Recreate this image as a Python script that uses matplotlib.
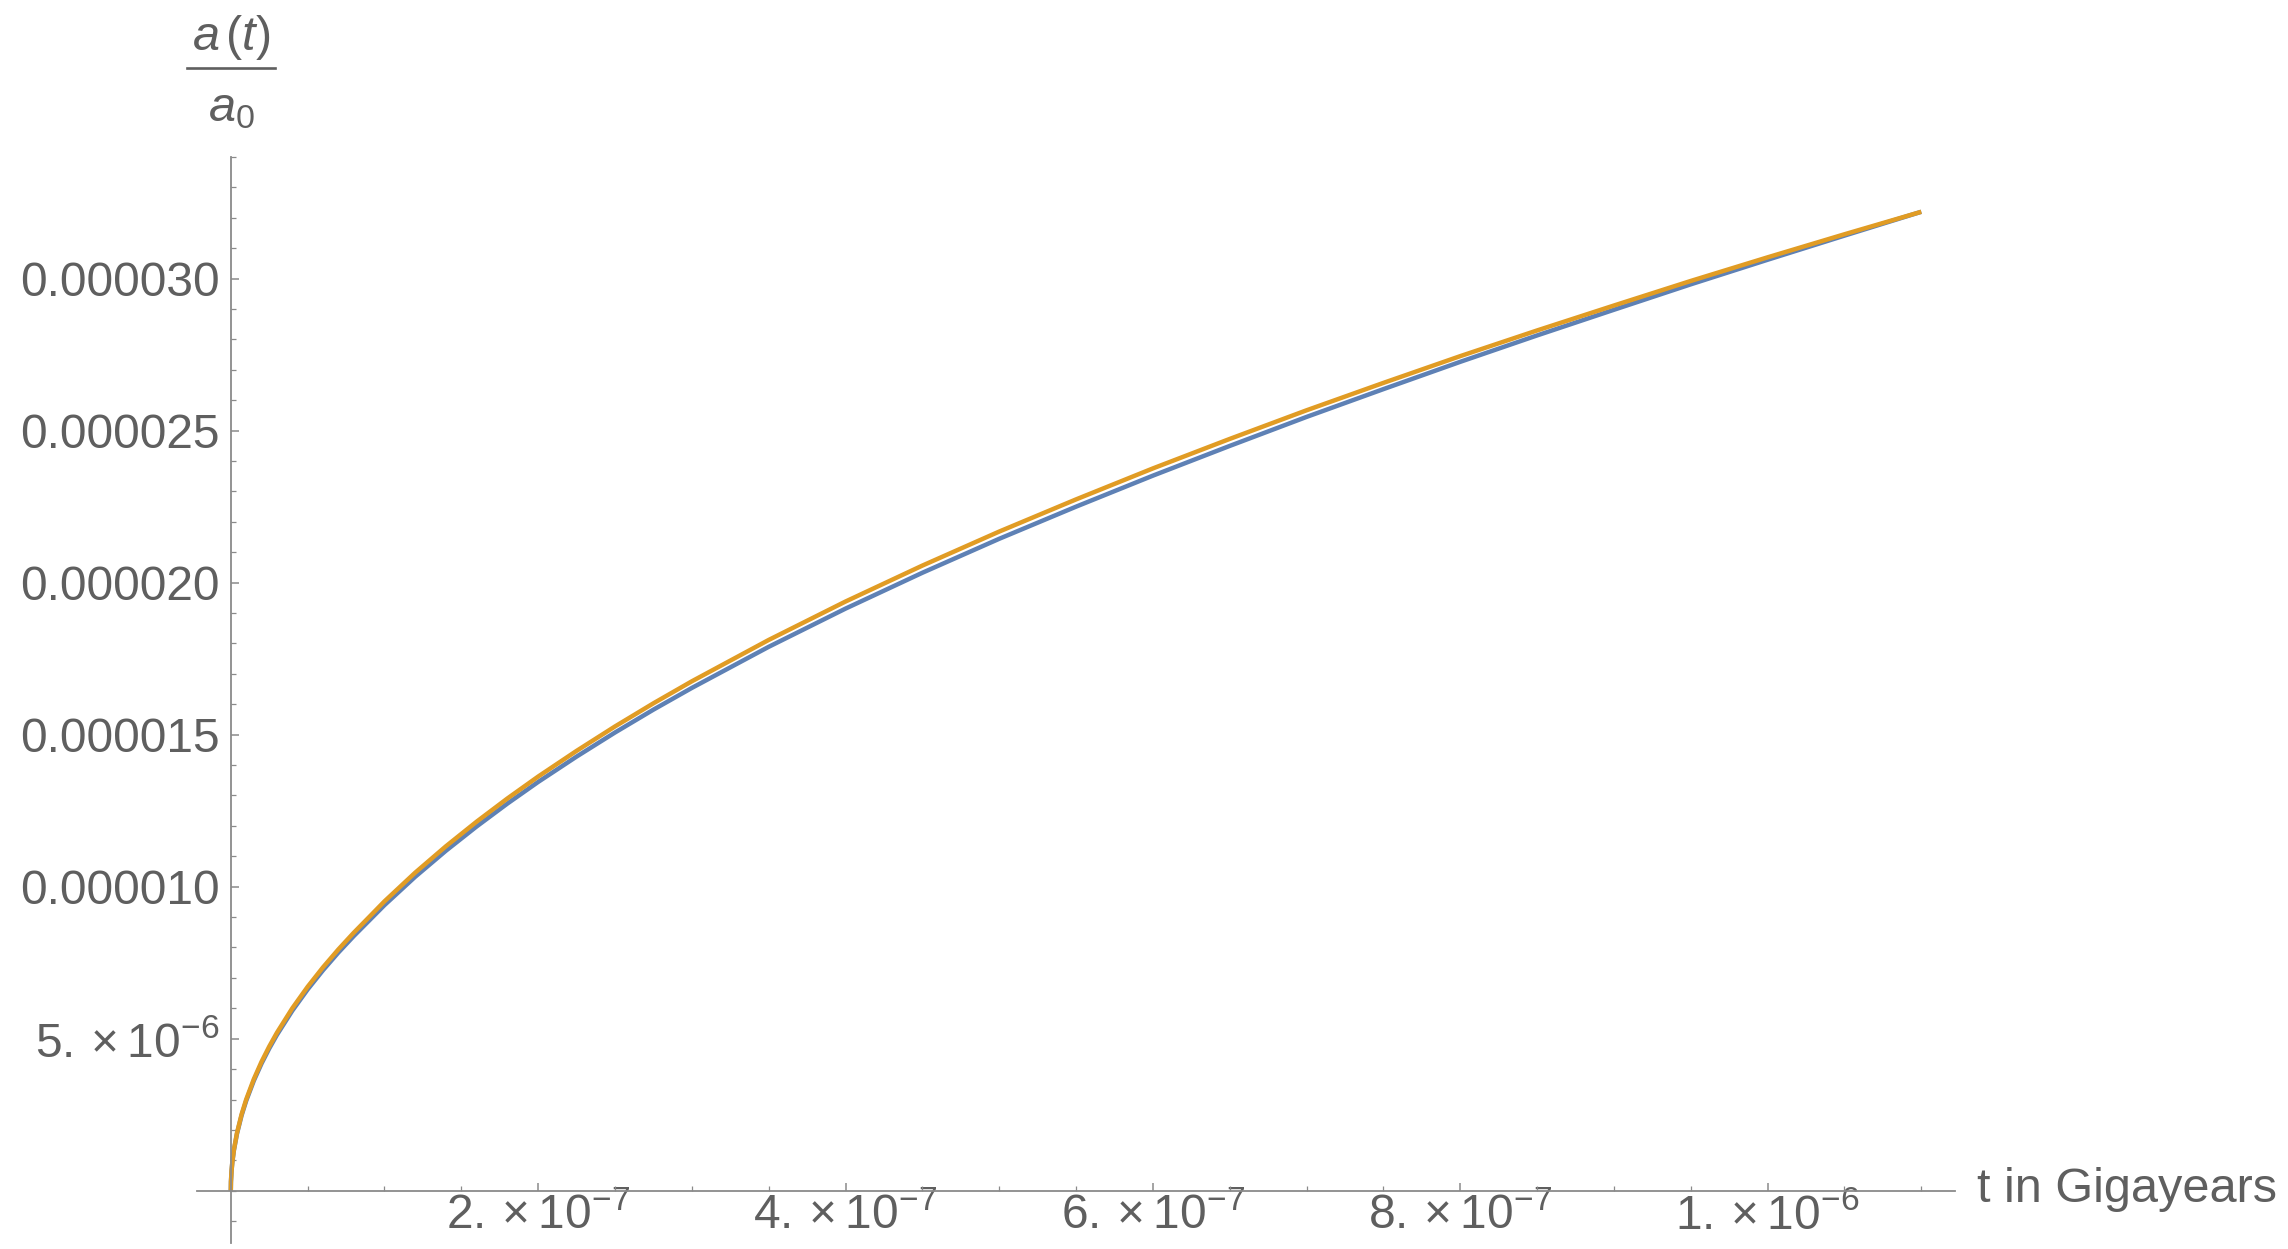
import numpy as np
import matplotlib
matplotlib.use("Agg")
from matplotlib import pyplot as plt
from matplotlib.lines import Line2D
from matplotlib.ticker import MultipleLocator, FixedLocator, FixedFormatter

plt.rcParams['font.family'] = ['Liberation Sans', 'DejaVu Sans']
plt.rcParams['mathtext.fontset'] = 'custom'
plt.rcParams['mathtext.rm'] = 'Liberation Sans'
plt.rcParams['mathtext.it'] = 'Liberation Sans:italic'
plt.rcParams['mathtext.bf'] = 'Liberation Sans:bold'

# time in gigayears
t_gyr = [0, 1e-10, 5e-10, 1e-9, 2e-9, 4e-9, 7e-9, 1e-8, 1.5e-8, 2e-8, 2.5e-8, 3e-8,
         4e-8, 5e-8, 6e-8, 7e-8, 8e-8, 9e-8, 1e-7, 1.2e-7, 1.4e-7, 1.6e-7, 1.8e-7,
         2e-7, 2.25e-7, 2.5e-7, 2.75e-7, 3e-7, 3.5e-7, 4e-7, 4.5e-7, 5e-7, 5.5e-7,
         6e-7, 6.5e-7, 7e-7, 7.5e-7, 8e-7, 8.5e-7, 9e-7, 9.5e-7, 1e-6, 1.05e-6, 1.1e-6]

# a(t)/a0, two nearly identical solutions
a_orange = [0, 3.0e-7, 6.71e-7, 9.49e-7, 1.342e-6, 1.897e-6, 2.510e-6, 3.0e-6, 3.674e-6,
            4.243e-6, 4.743e-6, 5.196e-6, 6.0e-6, 6.708e-6, 7.348e-6, 7.937e-6, 8.485e-6,
            9.0e-6, 9.518e-6, 1.0462e-5, 1.1330e-5, 1.2140e-5, 1.2902e-5, 1.3622e-5,
            1.4467e-5, 1.5270e-5, 1.6031e-5, 1.6755e-5, 1.8115e-5, 1.9379e-5, 2.0561e-5,
            2.1680e-5, 2.2738e-5, 2.3757e-5, 2.4727e-5, 2.5669e-5, 2.6570e-5, 2.7450e-5,
            2.8295e-5, 2.9115e-5, 2.9923e-5, 3.0700e-5, 3.1458e-5, 3.2198e-5]
a_blue = [0, 2.96e-7, 6.61e-7, 9.35e-7, 1.322e-6, 1.869e-6, 2.473e-6, 2.955e-6, 3.621e-6,
          4.183e-6, 4.677e-6, 5.125e-6, 5.919e-6, 6.620e-6, 7.252e-6, 7.834e-6, 8.375e-6,
          8.884e-6, 9.394e-6, 1.0326e-5, 1.1183e-5, 1.1982e-5, 1.2734e-5, 1.3445e-5,
          1.4279e-5, 1.5071e-5, 1.5823e-5, 1.6537e-5, 1.7889e-5, 1.9146e-5, 2.0325e-5,
          2.1442e-5, 2.2499e-5, 2.3519e-5, 2.4497e-5, 2.5451e-5, 2.6365e-5, 2.7263e-5,
          2.8131e-5, 2.8975e-5, 2.9812e-5, 3.0620e-5, 3.1414e-5, 3.2198e-5]

x_ticks = [2e-7, 4e-7, 6e-7, 8e-7, 1e-6]
x_labels = [r"$2.\times10^{-7}$", r"$4.\times10^{-7}$", r"$6.\times10^{-7}$",
            r"$8.\times10^{-7}$", r"$1.\times10^{-6}$"]
y_ticks = [5e-6, 1e-5, 1.5e-5, 2e-5, 2.5e-5, 3e-5]
y_labels = [r"$5.\times10^{-6}$", "0.000010", "0.000015", "0.000020", "0.000025", "0.000030"]

text_col = "#5f5f5f"
axis_col = "#8a8a8a"

fig = plt.figure(figsize=(22.88, 12.49), dpi=100)
ax = fig.add_axes([0.0861, 0.0048, 0.7684, 0.8695])

ax.plot(t_gyr, a_blue, color="#5E81B5", lw=3.2, solid_capstyle="butt")
ax.plot(t_gyr, a_orange, color="#E19C24", lw=3.2, solid_capstyle="butt")

ax.set_xlim(-2.2e-8, 1.122e-6)
ax.set_ylim(-1.72e-6, 3.40e-5)

for s in ["top", "right"]:
    ax.spines[s].set_visible(False)
ax.spines["left"].set_position(("data", 0))
ax.spines["bottom"].set_position(("data", 0))
for s in ["left", "bottom"]:
    ax.spines[s].set_color(axis_col)
    ax.spines[s].set_linewidth(1.3)

ax.xaxis.set_major_locator(FixedLocator(x_ticks))
ax.xaxis.set_major_formatter(FixedFormatter(x_labels))
ax.xaxis.set_minor_locator(MultipleLocator(0.5e-7))
ax.yaxis.set_major_locator(FixedLocator(y_ticks))
ax.yaxis.set_major_formatter(FixedFormatter(y_labels))
ax.yaxis.set_minor_locator(MultipleLocator(1e-6))

ax.tick_params(axis="both", which="major", direction="in", length=6, width=1.1,
               color=axis_col, labelcolor=text_col, labelsize=34.5)
ax.tick_params(axis="both", which="minor", direction="in", length=3.5, width=0.9,
               color=axis_col)
ax.tick_params(axis="x", which="major", pad=2)
ax.tick_params(axis="y", which="major", pad=8)

fig.text(1977 / 2288, 1 - 1190 / 1249, "t in Gigayears", color=text_col,
         fontsize=35, ha="left", va="center")

# y label drawn as a stacked fraction a(t) / a0
W, H = 2288, 1249
fig.text(231 / W, 1 - 37 / H, r"$a\,(t)$", color=text_col, fontsize=35,
         ha="center", va="center")
fig.add_artist(Line2D([187 / W, 275 / W], [1 - 68 / H, 1 - 68 / H],
                      color=text_col, lw=1.9, transform=fig.transFigure))
fig.text(231 / W, 1 - 109 / H, r"$a_0$", color=text_col, fontsize=35,
         ha="center", va="center")

fig.savefig("out.png", dpi=100, facecolor="white")
